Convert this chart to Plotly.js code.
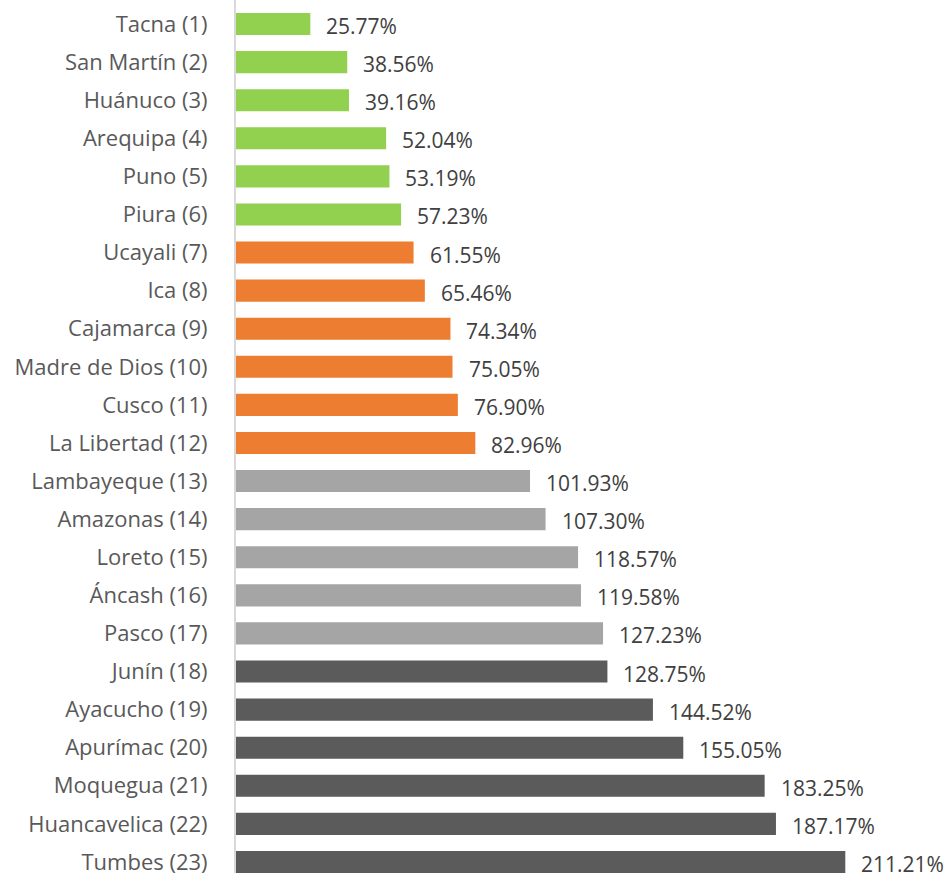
<!DOCTYPE html>
<html><head><meta charset="utf-8">
<script src="https://cdn.plot.ly/plotly-3.0.1.min.js"></script>
<style>html,body{margin:0;padding:0;background:#fff}</style>
</head><body><div id="chart" style="width:950px;height:873px"></div>
<script>
const regions = ["Tacna (1)","San Martín (2)","Huánuco (3)","Arequipa (4)","Puno (5)","Piura (6)","Ucayali (7)","Ica (8)","Cajamarca (9)","Madre de Dios (10)","Cusco (11)","La Libertad (12)","Lambayeque (13)","Amazonas (14)","Loreto (15)","Áncash (16)","Pasco (17)","Junín (18)","Ayacucho (19)","Apurímac (20)","Moquegua (21)","Huancavelica (22)","Tumbes (23)"];
const values = [25.77,38.56,39.16,52.04,53.19,57.23,61.55,65.46,74.34,75.05,76.90,82.96,101.93,107.30,118.57,119.58,127.23,128.75,144.52,155.05,183.25,187.17,211.21];
const groups = ["g","g","g","g","g","g","o","o","o","o","o","o","l","l","l","l","l","d","d","d","d","d","d"];
const groupColors = {g:"#92d050", o:"#ed7d31", l:"#a5a5a5", d:"#5b5b5b"};
const font = "'Open Sans', sans-serif";

const trace = {
  type:"bar", orientation:"h",
  y: regions, x: values,
  marker:{color: groups.map(g=>groupColors[g])},
  hoverinfo:"none"
};
const annotations = values.map((v,i)=>({
  x: v, y: regions[i], xref:"x", yref:"y",
  text: v.toFixed(2)+"%", showarrow:false,
  xanchor:"left", yanchor:"middle", xshift:14, yshift:-2,
  font:{family:font, size:21, color:"#404040"}
}));
const layout = {
  width:950, height:873,
  margin:{l:236, r:0, t:0, b:0},
  paper_bgcolor:"#fff", plot_bgcolor:"#fff",
  bargap:0.42,
  showlegend:false,
  xaxis:{range:[0,247.5], showgrid:false, zeroline:false, showticklabels:false, showline:false},
  yaxis:{type:"category", range:[22.29,-0.63], showgrid:false, zeroline:false,
         showline:true, linecolor:"#d9d9d9", linewidth:2,
         ticks:"", ticklabelstandoff:22,
         tickfont:{family:font, size:22, color:"#595959"}},
  annotations: annotations
};
Plotly.newPlot("chart",[trace],layout,{displayModeBar:false, staticPlot:true});
</script></body></html>
